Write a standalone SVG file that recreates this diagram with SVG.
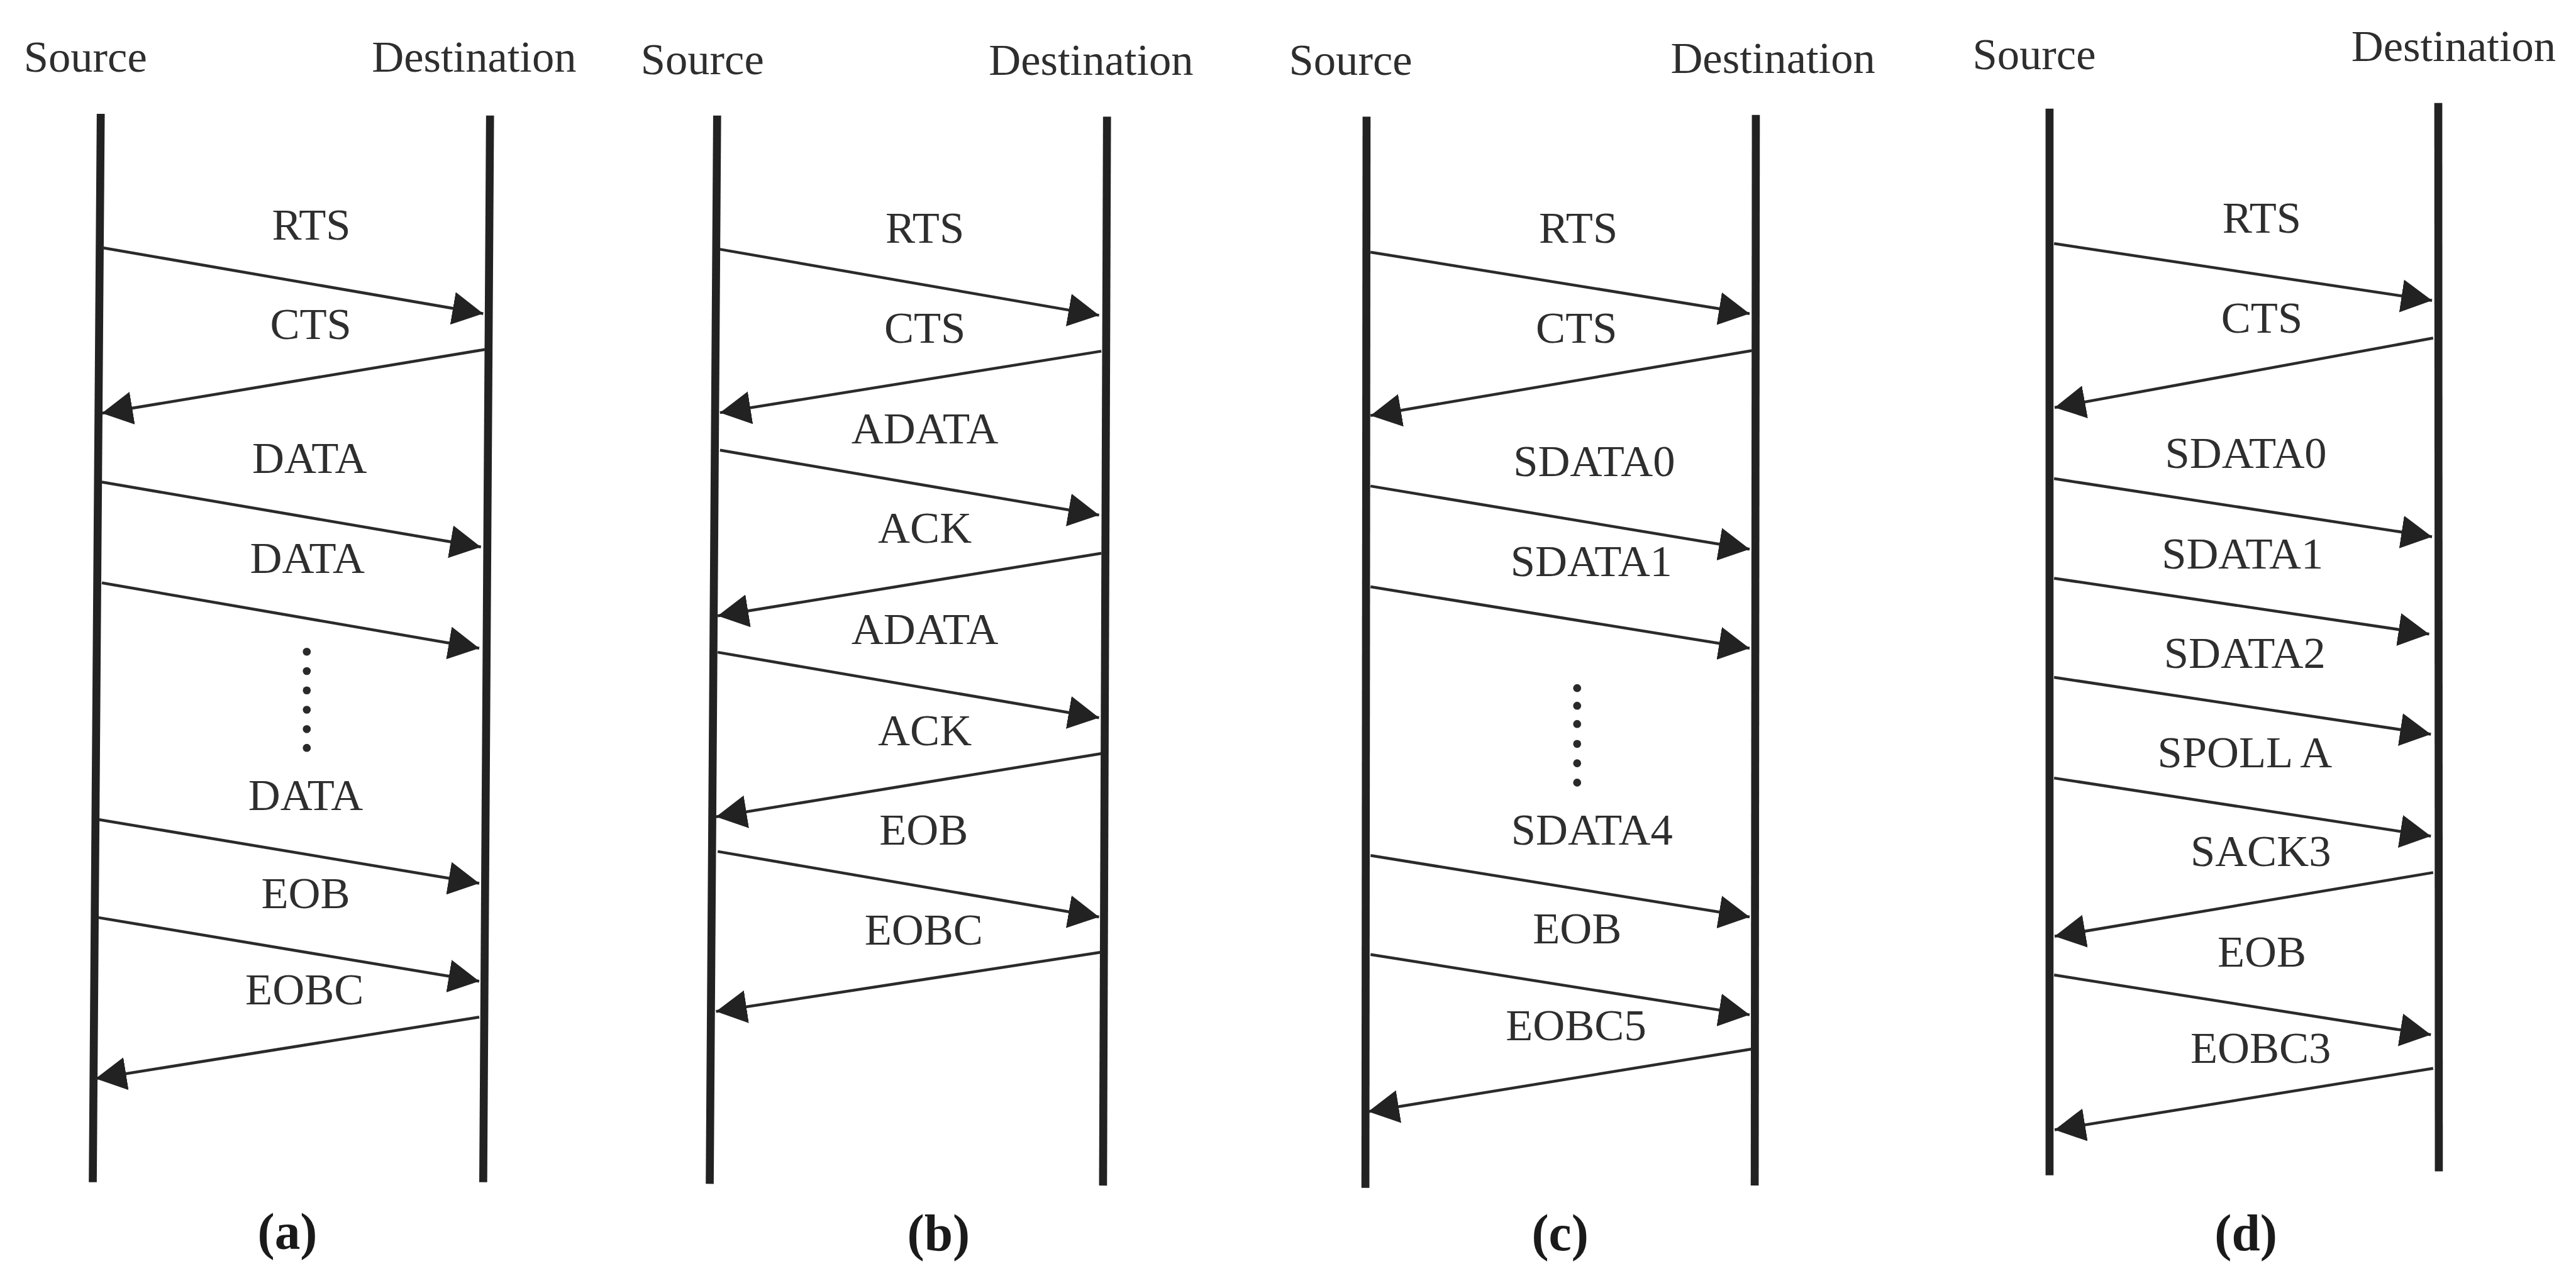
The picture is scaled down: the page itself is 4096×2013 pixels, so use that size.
<svg xmlns="http://www.w3.org/2000/svg" width="4096" height="2013" viewBox="0 0 4096 2013">
<style>
.t{font-family:"Liberation Serif","Times New Roman",serif;font-size:78px;fill:#2e2e2e;text-anchor:middle}
.cap{font-family:"Liberation Serif","Times New Roman",serif;font-size:90px;font-weight:bold;fill:#1a1a1a;text-anchor:middle}
.life{stroke:#222;stroke-width:14;fill:none}
.msg{stroke:#2a2a2a;stroke-width:5;fill:none;marker-end:url(#ah)}
.dot{fill:#2a2a2a}
</style>
<defs>
<marker id="ah" markerUnits="userSpaceOnUse" markerWidth="54" markerHeight="58" refX="54" refY="29" orient="auto">
<path d="M0,0 L54,29 L0,58 z" fill="#222"/>
</marker>
</defs>
<rect x="0" y="0" width="4096" height="2013" fill="#ffffff"/>
<g transform="scale(0.905)">
<!-- Panel a -->
<g id="panel-a">
<g id="a-source"><text class="t" x="150" y="126">Source</text><line class="life" x1="177" y1="200" x2="163" y2="2077"/></g>
<g id="a-destination"><text class="t" x="833" y="126">Destination</text><line class="life" x1="861" y1="203" x2="849" y2="2077"/></g>
<g id="a-connectors">
<line class="msg" x1="179" y1="435" x2="849" y2="551"/>
<line class="msg" x1="852" y1="614" x2="179" y2="726"/>
<line class="msg" x1="179" y1="847" x2="845" y2="961"/>
<line class="msg" x1="179" y1="1024" x2="842" y2="1139"/>
<line class="msg" x1="174" y1="1440" x2="842" y2="1552"/>
<line class="msg" x1="172" y1="1612" x2="842" y2="1724"/>
<line class="msg" x1="842" y1="1787" x2="168" y2="1895"/>
</g>
<g id="a-labels">
<text class="t" x="547" y="421">RTS</text>
<text class="t" x="546" y="596">CTS</text>
<text class="t" x="544" y="831">DATA</text>
<text class="t" x="540" y="1007">DATA</text>
<text class="t" x="537" y="1423">DATA</text>
<text class="t" x="537" y="1596">EOB</text>
<text class="t" x="535" y="1765">EOBC</text>
<text class="cap" x="505" y="2195">(a)</text>
</g>
<g id="a-dots">
<circle class="dot" cx="539" cy="1145" r="7"/><circle class="dot" cx="539" cy="1179" r="7"/><circle class="dot" cx="539" cy="1213" r="7"/><circle class="dot" cx="539" cy="1247" r="7"/><circle class="dot" cx="539" cy="1281" r="7"/><circle class="dot" cx="539" cy="1314" r="7"/>
</g>
</g>
<!-- Panel b -->
<g id="panel-b">
<g id="b-source"><text class="t" x="1234" y="130">Source</text><line class="life" x1="1260" y1="203" x2="1247" y2="2080"/></g>
<g id="b-destination"><text class="t" x="1917" y="132">Destination</text><line class="life" x1="1945" y1="205" x2="1938" y2="2083"/></g>
<g id="b-connectors">
<line class="msg" x1="1265" y1="438" x2="1931" y2="554"/>
<line class="msg" x1="1935" y1="617" x2="1265" y2="725"/>
<line class="msg" x1="1265" y1="791" x2="1931" y2="905"/>
<line class="msg" x1="1935" y1="972" x2="1261" y2="1082"/>
<line class="msg" x1="1261" y1="1146" x2="1931" y2="1261"/>
<line class="msg" x1="1935" y1="1324" x2="1258" y2="1435"/>
<line class="msg" x1="1261" y1="1496" x2="1931" y2="1611"/>
<line class="msg" x1="1935" y1="1673" x2="1258" y2="1777"/>
</g>
<g id="b-labels">
<text class="t" x="1625" y="427">RTS</text>
<text class="t" x="1625" y="602">CTS</text>
<text class="t" x="1625" y="779">ADATA</text>
<text class="t" x="1625" y="954">ACK</text>
<text class="t" x="1625" y="1132">ADATA</text>
<text class="t" x="1625" y="1309">ACK</text>
<text class="t" x="1623" y="1484">EOB</text>
<text class="t" x="1623" y="1660">EOBC</text>
<text class="cap" x="1649" y="2197">(b)</text>
</g>
</g>
<!-- Panel c -->
<g id="panel-c">
<g id="c-source"><text class="t" x="2373" y="132">Source</text><line class="life" x1="2401" y1="205" x2="2399" y2="2087"/></g>
<g id="c-destination"><text class="t" x="3115" y="128">Destination</text><line class="life" x1="3085" y1="202" x2="3083" y2="2083"/></g>
<g id="c-connectors">
<line class="msg" x1="2408" y1="443" x2="3074" y2="551"/>
<line class="msg" x1="3078" y1="616" x2="2408" y2="730"/>
<line class="msg" x1="2408" y1="854" x2="3074" y2="965"/>
<line class="msg" x1="2408" y1="1031" x2="3074" y2="1139"/>
<line class="msg" x1="2408" y1="1503" x2="3074" y2="1611"/>
<line class="msg" x1="2408" y1="1677" x2="3074" y2="1783"/>
<line class="msg" x1="3078" y1="1843" x2="2404" y2="1953"/>
</g>
<g id="c-labels">
<text class="t" x="2773" y="427">RTS</text>
<text class="t" x="2770" y="602">CTS</text>
<text class="t" x="2801" y="836">SDATA0</text>
<text class="t" x="2796" y="1012">SDATA1</text>
<text class="t" x="2797" y="1484">SDATA4</text>
<text class="t" x="2771" y="1658">EOB</text>
<text class="t" x="2769" y="1828">EOBC5</text>
<text class="cap" x="2741" y="2197">(c)</text>
</g>
<g id="c-dots">
<circle class="dot" cx="2771" cy="1209" r="7"/><circle class="dot" cx="2771" cy="1240" r="7"/><circle class="dot" cx="2771" cy="1272" r="7"/><circle class="dot" cx="2771" cy="1307" r="7"/><circle class="dot" cx="2771" cy="1341" r="7"/><circle class="dot" cx="2771" cy="1375" r="7"/>
</g>
</g>
<!-- Panel d -->
<g id="panel-d">
<g id="d-source"><text class="t" x="3574" y="121">Source</text><line class="life" x1="3601" y1="191" x2="3601" y2="2065"/></g>
<g id="d-destination"><text class="t" x="4311" y="107">Destination</text><line class="life" x1="4284" y1="181" x2="4285" y2="2058"/></g>
<g id="d-connectors">
<line class="msg" x1="3609" y1="428" x2="4273" y2="528"/>
<line class="msg" x1="4275" y1="594" x2="3610" y2="716"/>
<line class="msg" x1="3609" y1="841" x2="4273" y2="943"/>
<line class="msg" x1="3609" y1="1016" x2="4268" y2="1114"/>
<line class="msg" x1="3609" y1="1190" x2="4271" y2="1290"/>
<line class="msg" x1="3609" y1="1367" x2="4271" y2="1469"/>
<line class="msg" x1="4275" y1="1533" x2="3610" y2="1645"/>
<line class="msg" x1="3609" y1="1713" x2="4271" y2="1818"/>
<line class="msg" x1="4275" y1="1877" x2="3610" y2="1985"/>
</g>
<g id="d-labels">
<text class="t" x="3974" y="409">RTS</text>
<text class="t" x="3974" y="584">CTS</text>
<text class="t" x="3946" y="822">SDATA0</text>
<text class="t" x="3940" y="999">SDATA1</text>
<text class="t" x="3944" y="1174">SDATA2</text>
<text class="t" x="3944" y="1348">SPOLL A</text>
<text class="t" x="3972" y="1522">SACK3</text>
<text class="t" x="3974" y="1698">EOB</text>
<text class="t" x="3972" y="1867">EOBC3</text>
<text class="cap" x="3946" y="2197">(d)</text>
</g>
</g>
</g>
</svg>
